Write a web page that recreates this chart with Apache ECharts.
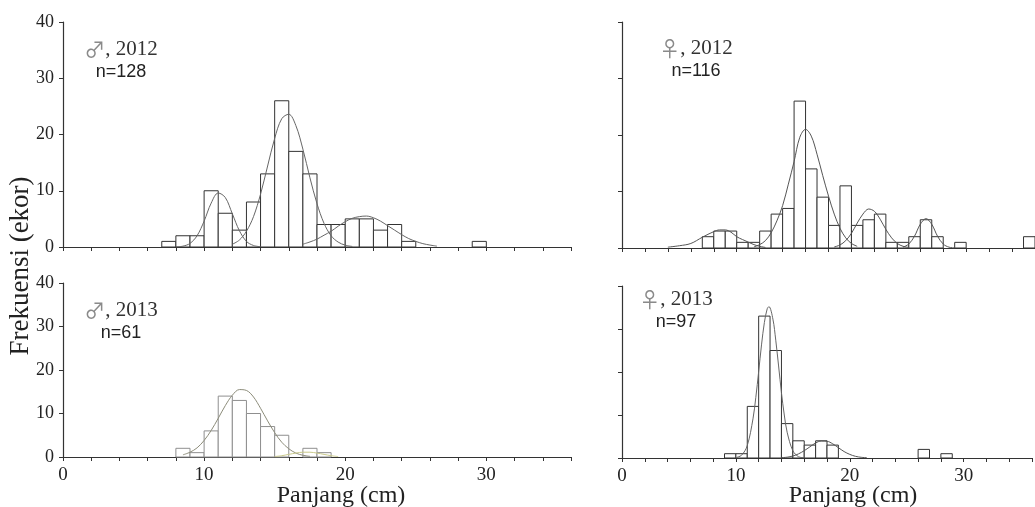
<!DOCTYPE html>
<html><head><meta charset="utf-8">
<script src="https://cdn.jsdelivr.net/npm/echarts@6/dist/echarts.min.js"></script>
<style>html,body{margin:0;padding:0;background:#fff}#c{width:1035px;height:507px}</style>
</head><body><div id="c"></div><script>
// ---------- DATA ----------
const BIN_WIDTH = 1; // cm
const X_TICK_LABELS = [0, 10, 20, 30];
const Y_TICK_LABELS = [0, 10, 20, 30, 40];

// male 2012 (n=128)
const m12Bins   = [7,8,9,10,11,12,13,14,15,16,17,18,19,20,21,22,23,24,29];
const m12Counts = [1,2,2,10,6,3,8,13,26,17,13,4,4,5,5,3,4,1,1];
const m12Fit1 = [[8,0.03],[8.5,0.15],[9,0.64],[9.5,2.0],[10,4.6],[10.5,7.8],[11,9.6],[11.5,8.8],[12,5.9],[12.5,2.9],[13,1.0],[13.5,0.27],[14,0.05]];
const m12Fit2 = [[12,0.49],[12.5,1.24],[13,2.8],[13.5,5.4],[14,9.4],[14.5,14.4],[15,19.3],[15.5,22.8],[16,23.6],[16.5,21.6],[17,17.4],[17.5,12.3],[18,7.7],[18.5,4.2],[19,2.0],[19.5,0.87],[20,0.33],[20.5,0.1]];
const m12Fit3 = [[17,0.5],[17.5,0.9],[18,1.4],[18.5,2.1],[19,2.8],[19.5,3.7],[20,4.5],[20.5,5.1],[21,5.4],[21.5,5.5],[22,5.2],[22.5,4.6],[23,3.8],[23.5,3.0],[24,2.2],[24.5,1.5],[25,1.0],[25.5,0.6],[26,0.35],[26.5,0.15]];

// female 2012 (n=116)
const f12Bins   = [7,8,9,10,11,12,13,14,15,16,17,18,19,20,21,22,23,24,25,26,27,29,35];
const f12Counts = [2,3,3,1,1,3,6,7,26,14,9,4,11,4,5,6,1,1,2,5,2,1,2];
const f12Fit1 = [[4,0.15],[5,0.4],[6,0.8],[7,1.9],[8,2.9],[8.5,3.2],[9,3.2],[9.5,2.8],[10,2.0],[10.5,1.5],[11,1.05],[11.5,0.6],[12,0.3],[12.5,0.1]];
const f12Fit2 = [[11.5,0.2],[12,0.6],[12.5,1.3],[13,2.7],[13.5,4.8],[14,7.5],[14.5,11.3],[15,15.3],[15.5,19.6],[16,21.0],[16.5,19.8],[17,16.6],[17.5,12.8],[18,9.2],[18.5,6.0],[19,3.5],[19.5,1.8],[20,0.8],[20.5,0.3]];
const f12Fit3 = [[18.5,0.18],[19,0.54],[19.5,1.3],[20,2.6],[20.5,4.4],[21,6.0],[21.5,6.9],[22,6.5],[22.5,5.1],[23,3.3],[23.5,1.8],[24,0.8],[24.5,0.3],[25,0.1]];
const f12Fit4 = [[24.5,0.15],[25,0.7],[25.5,2.1],[26,4.2],[26.5,5.2],[27,4.2],[27.5,2.1],[28,0.7],[28.5,0.15],[29,0.02]];

// male 2013 (n=61)
const m13Bins   = [8,9,10,11,12,13,14,15,17,18];
const m13Counts = [2,1,6,14,13,10,7,5,2,1];
const m13Fit1 = [[8.5,0.5],[9,1.1],[9.5,2.1],[10,3.8],[10.5,6.1],[11,8.9],[11.5,11.8],[12,14.2],[12.5,15.5],[13,15.3],[13.5,13.8],[14,11.2],[14.5,8.3],[15,5.6],[15.5,3.4],[16,1.9],[16.5,0.9],[17,0.4],[17.5,0.15]];
const m13Fit2 = [[15,0.1],[15.5,0.3],[16,0.6],[16.5,0.9],[17,1.1],[17.5,1.1],[18,0.9],[18.5,0.6],[19,0.3],[19.5,0.1]];

// female 2013 (n=97)
const f13Bins   = [9,10,11,12,13,14,15,16,17,18,26,28];
const f13Counts = [1,1,12,33,25,8,4,3,4,3,2,1];
const f13Fit1 = [[10,0.1],[10.5,0.65],[11,2.9],[11.5,9.1],[11.75,14.1],[12,20.1],[12.25,26.3],[12.5,31.5],[12.75,34.7],[12.9,35.2],[13.25,32.3],[13.5,27.4],[13.75,21.4],[14,15.2],[14.25,10.0],[14.5,6.0],[15,1.7],[15.5,0.3],[16,0.05]];
const f13Fit2 = [[14,0.07],[14.5,0.19],[15,0.46],[15.5,0.96],[16,1.7],[16.5,2.6],[17,3.5],[17.5,3.95],[18,3.9],[18.5,3.3],[19,2.4],[19.5,1.5],[20,0.84],[20.5,0.39],[21,0.16],[21.5,0.06]];

// ---------- CHART ----------
const chart = echarts.init(document.getElementById('c'), null, {renderer: 'canvas'});
const SERIF = '"Liberation Serif", "Times New Roman", serif';
const SANS = '"Liberation Sans", Arial, sans-serif';

const grids = [
  {left: 63, top: 22, width: 508, height: 225},
  {left: 622, top: 22, width: 423, height: 226},
  {left: 63, top: 283, width: 508, height: 174},
  {left: 622, top: 286, width: 423, height: 172}
];

function xAx(i, showLabels) {
  return {
    gridIndex: i, type: 'value', min: 0, max: 36, interval: 2,
    axisLine: {show: true, onZero: false, lineStyle: {color: '#333', width: 1.2}},
    axisTick: {show: true, length: 4, lineStyle: {color: '#333', width: 1}},
    splitLine: {show: false},
    axisLabel: {
      show: showLabels, margin: 9, color: '#222', fontFamily: SERIF, fontSize: 19,
      formatter: v => X_TICK_LABELS.indexOf(v) >= 0 ? String(v) : ''
    }
  };
}
function yAx(i, showLabels) {
  return {
    gridIndex: i, type: 'value', min: 0, max: 40, interval: 10,
    axisLine: {show: true, lineStyle: {color: '#333', width: 1.2}},
    axisTick: {show: true, length: 4, lineStyle: {color: '#333', width: 1}},
    splitLine: {show: false},
    axisLabel: {
      show: showLabels, margin: 9, color: '#222', fontFamily: SERIF, fontSize: 18,
      formatter: v => Y_TICK_LABELS.indexOf(v) >= 0 ? String(v) : ''
    }
  };
}

function barSeries(idx, bins, counts, color) {
  return {
    type: 'custom', xAxisIndex: idx, yAxisIndex: idx, z: 2,
    data: bins.map((b, i) => [b, counts[i]]),
    encode: {x: 0, y: 1},
    renderItem: function (params, api) {
      const x0 = api.value(0), h = api.value(1);
      const p0 = api.coord([x0, 0]);
      const p1 = api.coord([x0 + BIN_WIDTH, h]);
      return {
        type: 'rect',
        shape: {x: p0[0], y: p1[1], width: p1[0] - p0[0], height: p0[1] - p1[1]},
        style: {fill: '#fff', stroke: color, lineWidth: 1}
      };
    }
  };
}
function fitSeries(idx, pts, color) {
  return {
    type: 'line', xAxisIndex: idx, yAxisIndex: idx, z: 3,
    data: pts, smooth: 0.35, symbol: 'none', silent: true,
    lineStyle: {color: color, width: 1}
  };
}

function label(x, y, sym, year, n) {
  return [
    {type: 'text', x: x, y: y, style: {
      text: '{s|' + sym + '}{t|, ' + year + '}',
      align: 'center', verticalAlign: 'middle',
      rich: {
        s: {fontFamily: '"Noto Sans CJK SC", "DejaVu Sans", sans-serif', fontSize: 21, fill: '#8a8a8a'},
        t: {fontFamily: SERIF, fontSize: 21, fill: '#333'}
      }
    }},
    {type: 'text', x: x, y: y + 23, style: {
      text: 'n=' + n, align: 'center', verticalAlign: 'middle',
      font: '18px ' + SANS, fill: '#222'
    }}
  ];
}

const option = {
  backgroundColor: '#fff',
  animation: false,
  grid: grids,
  xAxis: [xAx(0, false), xAx(1, false), xAx(2, true), xAx(3, true)],
  yAxis: [yAx(0, true), yAx(1, false), yAx(2, true), yAx(3, false)],
  series: [
    barSeries(0, m12Bins, m12Counts, '#333'),
    fitSeries(0, m12Fit1, '#666'), fitSeries(0, m12Fit2, '#666'), fitSeries(0, m12Fit3, '#666'),
    barSeries(1, f12Bins, f12Counts, '#333'),
    fitSeries(1, f12Fit1, '#555'), fitSeries(1, f12Fit2, '#555'), fitSeries(1, f12Fit3, '#555'), fitSeries(1, f12Fit4, '#555'),
    barSeries(2, m13Bins, m13Counts, '#8f8f8f'),
    fitSeries(2, m13Fit1, '#8c8c7a'), fitSeries(2, m13Fit2, '#c9c98a'),
    barSeries(3, f13Bins, f13Counts, '#333'),
    fitSeries(3, f13Fit1, '#666'), fitSeries(3, f13Fit2, '#555')
  ],
  graphic: [
    {type: 'text', x: 21, y: 266, rotation: Math.PI / 2, style: {
      text: 'Frekuensi (ekor)', align: 'center', verticalAlign: 'middle',
      font: '27px ' + SERIF, fill: '#222'
    }},
    {type: 'text', x: 341, y: 496, style: {
      text: 'Panjang (cm)', align: 'center', verticalAlign: 'middle',
      font: '24px ' + SERIF, fill: '#222'
    }},
    {type: 'text', x: 853, y: 496, style: {
      text: 'Panjang (cm)', align: 'center', verticalAlign: 'middle',
      font: '24px ' + SERIF, fill: '#222'
    }}
  ].concat(label(121, 49, '♂', 2012, 128))
   .concat(label(696, 48, '♀', 2012, 116))
   .concat(label(121, 310, '♂', 2013, 61))
   .concat(label(676, 299, '♀', 2013, 97))
};
chart.setOption(option);
</script></body></html>
